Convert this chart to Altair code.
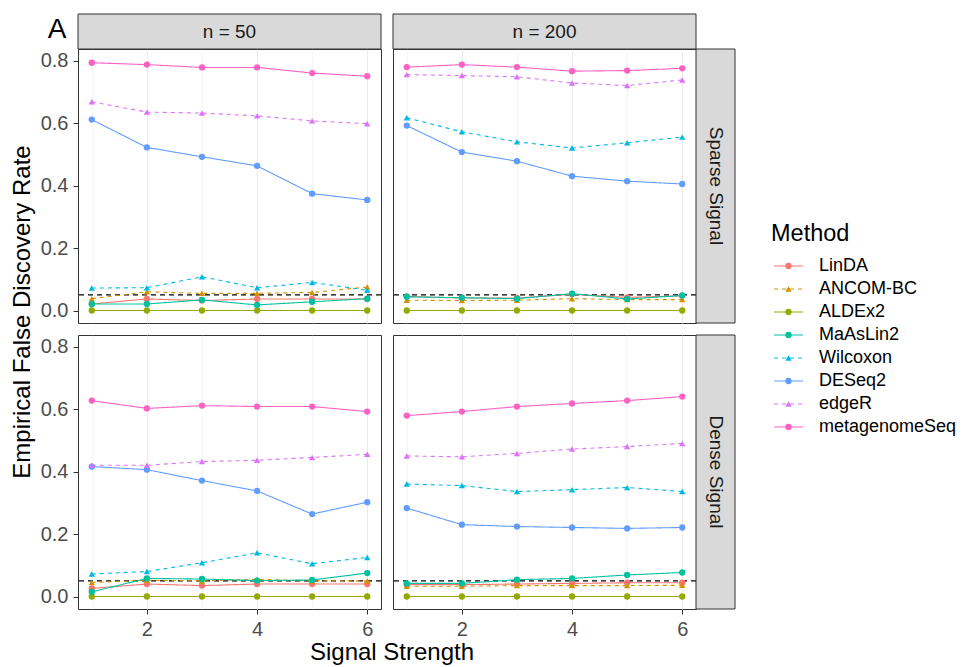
import altair as alt
import pandas as pd

methods = ["LinDA", "ANCOM-BC", "ALDEx2", "MaAsLin2", "Wilcoxon", "DESeq2", "edgeR", "metagenomeSeq"]
colors = ["#F8766D", "#D39200", "#93AA00", "#00C19F", "#00B9E3", "#619CFF", "#DB72FB", "#FF61C3"]
shapes = ["circle", "triangle-up", "circle", "circle", "triangle-up", "circle", "triangle-up", "circle"]
dashes = [[1, 0], [4, 4], [1, 0], [1, 0], [4, 4], [1, 0], [4, 4], [1, 0]]
strength = [1, 2, 3, 4, 5, 6]
sizes = ["n = 50", "n = 200"]
signals = ["Sparse Signal", "Dense Signal"]

# n = 50, Sparse Signal
s50 = {
    "LinDA":         [0.021, 0.037, 0.032, 0.037, 0.037, 0.037],
    "ANCOM-BC":      [0.038, 0.060, 0.055, 0.055, 0.058, 0.075],
    "ALDEx2":        [0.0, 0.0, 0.0, 0.0, 0.0, 0.0],
    "MaAsLin2":      [0.021, 0.021, 0.034, 0.018, 0.028, 0.038],
    "Wilcoxon":      [0.072, 0.073, 0.108, 0.073, 0.090, 0.065],
    "DESeq2":        [0.611, 0.522, 0.492, 0.463, 0.374, 0.354],
    "edgeR":         [0.668, 0.635, 0.632, 0.623, 0.607, 0.598],
    "metagenomeSeq": [0.793, 0.787, 0.778, 0.778, 0.760, 0.750],
}
# n = 200, Sparse Signal
s200 = {
    "LinDA":         [0.045, 0.040, 0.040, 0.052, 0.042, 0.047],
    "ANCOM-BC":      [0.033, 0.032, 0.033, 0.038, 0.035, 0.035],
    "ALDEx2":        [0.0, 0.0, 0.0, 0.0, 0.0, 0.0],
    "MaAsLin2":      [0.044, 0.041, 0.038, 0.054, 0.037, 0.048],
    "Wilcoxon":      [0.617, 0.572, 0.540, 0.520, 0.537, 0.555],
    "DESeq2":        [0.592, 0.507, 0.478, 0.430, 0.414, 0.405],
    "edgeR":         [0.755, 0.752, 0.748, 0.728, 0.720, 0.738],
    "metagenomeSeq": [0.779, 0.787, 0.779, 0.766, 0.768, 0.775],
}
# n = 50, Dense Signal
d50 = {
    "LinDA":         [0.026, 0.040, 0.035, 0.040, 0.040, 0.040],
    "ANCOM-BC":      [0.045, 0.052, 0.050, 0.055, 0.050, 0.050],
    "ALDEx2":        [0.0, 0.0, 0.0, 0.0, 0.0, 0.0],
    "MaAsLin2":      [0.015, 0.058, 0.056, 0.051, 0.053, 0.075],
    "Wilcoxon":      [0.072, 0.080, 0.108, 0.140, 0.105, 0.125],
    "DESeq2":        [0.416, 0.406, 0.371, 0.338, 0.264, 0.302],
    "edgeR":         [0.420, 0.420, 0.432, 0.436, 0.445, 0.455],
    "metagenomeSeq": [0.627, 0.602, 0.611, 0.608, 0.608, 0.592],
}
# n = 200, Dense Signal
d200 = {
    "LinDA":         [0.038, 0.038, 0.040, 0.042, 0.044, 0.044],
    "ANCOM-BC":      [0.033, 0.033, 0.035, 0.035, 0.035, 0.036],
    "ALDEx2":        [0.0, 0.0, 0.0, 0.0, 0.0, 0.0],
    "MaAsLin2":      [0.042, 0.042, 0.054, 0.058, 0.069, 0.077],
    "Wilcoxon":      [0.360, 0.355, 0.336, 0.342, 0.349, 0.336],
    "DESeq2":        [0.283, 0.230, 0.224, 0.221, 0.218, 0.221],
    "edgeR":         [0.450, 0.447, 0.458, 0.472, 0.480, 0.490],
    "metagenomeSeq": [0.579, 0.592, 0.608, 0.618, 0.627, 0.640],
}

panels = [("n = 50", "Sparse Signal", s50), ("n = 200", "Sparse Signal", s200),
          ("n = 50", "Dense Signal", d50), ("n = 200", "Dense Signal", d200)]
rows = []
for n, sig, d in panels:
    for m in methods:
        for x, v in zip(strength, d[m]):
            rows.append({"n": n, "Signal": sig, "Method": m, "x": x, "fdr": v})
df = pd.DataFrame(rows)
legend_df = pd.DataFrame({"Method": methods})

W, H = 303, 274
FONT = "Liberation Sans"

xaxis = alt.Axis(
    values=[1, 2, 3, 4, 5, 6], title=None,
    labelExpr="datum.value % 2 == 0 ? datum.label : ''",
    tickOpacity={"condition": {"test": "datum.value % 2 == 1", "value": 0}, "value": 1},
    gridWidth={"condition": {"test": "datum.value % 2 == 1", "value": 0.5}, "value": 1},
    labelFont=FONT, labelFontSize=20, labelColor="#4D4D4D",
)
yaxis = alt.Axis(
    values=[0, 0.1, 0.2, 0.3, 0.4, 0.5, 0.6, 0.7, 0.8], title=None, format=".1f",
    labelExpr="round(datum.value * 10) % 2 == 0 ? datum.label : ''",
    tickOpacity={"condition": {"test": "round(datum.value * 10) % 2 == 1", "value": 0}, "value": 1},
    gridWidth={"condition": {"test": "round(datum.value * 10) % 2 == 1", "value": 0.5}, "value": 1},
    labelFont=FONT, labelFontSize=20, labelColor="#4D4D4D",
)

xenc = alt.X("x:Q", scale=alt.Scale(domain=[0.75, 6.25], nice=False, zero=False), axis=xaxis)
yenc = alt.Y("fdr:Q", scale=alt.Scale(domain=[-0.0399, 0.837], nice=False, zero=False), axis=yaxis)
cenc = alt.Color("Method:N", scale=alt.Scale(domain=methods, range=colors), legend=None)
denc = alt.StrokeDash("Method:N", scale=alt.Scale(domain=methods, range=dashes), legend=None)
senc = alt.Shape("Method:N", scale=alt.Scale(domain=methods, range=shapes), legend=None)

base = alt.Chart().encode(x=xenc, y=yenc)
lines = base.mark_line(strokeWidth=1.1).encode(color=cenc, strokeDash=denc, detail="Method:N")
points = base.mark_point(filled=True, size=40, opacity=1).encode(color=cenc, shape=senc)
first = "datum.Method == 'LinDA' && datum.x == 1"
rule = alt.Chart().mark_rule(strokeDash=[5, 4], color="black", strokeWidth=1.1).encode(
    y=alt.datum(0.05)
).transform_filter(first)

topf = first + " && datum.Signal == 'Sparse Signal'"
sidef = first + " && datum.n == 'n = 200'"
top_rect = alt.Chart().mark_rect(fill="#D9D9D9", stroke="#333333", strokeWidth=1, clip=False).encode(
    x=alt.value(0), x2=alt.value(W), y=alt.value(-35), y2=alt.value(0)
).transform_filter(topf)
top_text = alt.Chart().mark_text(font=FONT, fontSize=19, color="#1A1A1A", clip=False, baseline="middle").encode(
    x=alt.value(W / 2), y=alt.value(-17), text="n:N"
).transform_filter(topf)
side_rect = alt.Chart().mark_rect(fill="#D9D9D9", stroke="#333333", strokeWidth=1, clip=False).encode(
    x=alt.value(W), x2=alt.value(W + 39), y=alt.value(0), y2=alt.value(H)
).transform_filter(sidef)
side_text = alt.Chart().mark_text(font=FONT, fontSize=19, color="#1A1A1A", angle=90, clip=False,
                                  baseline="middle").encode(
    x=alt.value(W + 19.5), y=alt.value(H / 2), text="Signal:N"
).transform_filter(sidef)
tag = alt.Chart().mark_text(font=FONT, fontSize=28, color="black", clip=False, align="center",
                            baseline="middle").encode(
    x=alt.value(-21), y=alt.value(-19), text=alt.value("A")
).transform_filter(topf + " && datum.n == 'n = 50'")

layered = alt.layer(rule, lines, points, top_rect, top_text, side_rect, side_text, tag, data=df).properties(
    width=W, height=H
)

facet = layered.facet(
    row=alt.Row("Signal:N", sort=signals,
                header=alt.Header(title="Empirical False Discovery Rate", labels=False, labelPadding=0,
                                  titleOrient="left", titleFontSize=24, titleFontWeight="normal",
                                  titleFont=FONT, titleColor="black", titlePadding=-5)),
    column=alt.Column("n:N", sort=sizes,
                      header=alt.Header(title="Signal Strength", labels=False, labelPadding=0,
                                        titleOrient="bottom", titleFontSize=24, titleFontWeight="normal",
                                        titleFont=FONT, titleColor="black", titlePadding=-8)),
    spacing=12,
    bounds="flush",
)

# legend panel built from the same scales
LH = 2 * H + 12
lyenc = alt.Y("Method:N", scale=alt.Scale(type="point", domain=methods, range=[217, 378], padding=0), axis=None)
lbase = alt.Chart(legend_df).encode(y=lyenc)
l_lines = lbase.mark_rule(strokeWidth=1.1).encode(
    x=alt.value(5), x2=alt.value(34), color=cenc, strokeDash=denc)
l_points = lbase.mark_point(filled=True, size=40, opacity=1).encode(
    x=alt.value(19.5), color=cenc, shape=senc)
l_text = lbase.mark_text(font=FONT, fontSize=18, color="black", align="left", baseline="middle").encode(
    x=alt.value(50), text="Method:N")
l_title = alt.Chart(legend_df).mark_text(font=FONT, fontSize=23.5, color="black", align="left",
                                          baseline="middle").encode(
    x=alt.value(2), y=alt.value(185), text=alt.value("Method")
).transform_filter("datum.Method == 'LinDA'")
legend = alt.layer(l_lines, l_points, l_text, l_title).properties(
    width=150, height=LH, view=alt.ViewBackground(strokeOpacity=0)
)

chart = alt.hconcat(facet, legend, spacing=33).properties(
    padding={"top": 5, "left": 2, "right": 0, "bottom": 0}
).configure(
    background="white"
).configure_view(
    stroke="#333333", strokeWidth=1
).configure_axis(
    gridColor="#EBEBEB", tickColor="#333333", domain=False, tickSize=5, labelPadding=5,
)

chart.save("out.html", embed_options={"renderer": "svg", "actions": False})
